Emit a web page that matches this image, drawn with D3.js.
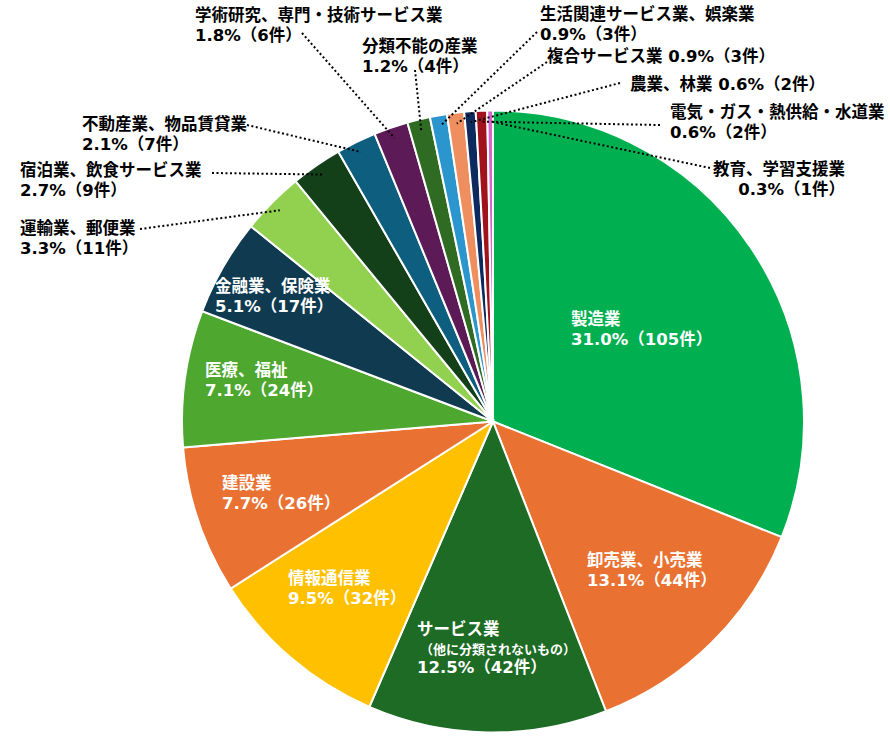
<!DOCTYPE html>
<html>
<head>
<meta charset="utf-8">
<script src="https://cdn.jsdelivr.net/npm/d3@7"></script>
<style>
  body { margin: 0; background: #fff; }
  text { font-family: "DejaVu Sans", "Noto Sans CJK JP", sans-serif; font-weight: bold; }
</style>
</head>
<body>
<svg id="chart" width="890" height="736"></svg>
<script>
// data
const industries = ["製造業", "卸売業、小売業", "サービス業", "情報通信業", "建設業", "医療、福祉",
  "金融業、保険業", "運輸業、郵便業", "宿泊業、飲食サービス業", "不動産業、物品賃貸業",
  "学術研究、専門・技術サービス業", "分類不能の産業", "生活関連サービス業、娯楽業",
  "複合サービス業", "農業、林業", "電気・ガス・熱供給・水道業", "教育、学習支援業"];
const counts = [105, 44, 42, 32, 26, 24, 17, 11, 9, 7, 6, 4, 3, 3, 2, 2, 1];
const percents = ["31.0%", "13.1%", "12.5%", "9.5%", "7.7%", "7.1%", "5.1%", "3.3%", "2.7%",
  "2.1%", "1.8%", "1.2%", "0.9%", "0.9%", "0.6%", "0.6%", "0.3%"];
const subNote = "（他に分類されないもの）"; // under サービス業

const colors = ["#00B050", "#E97132", "#1D6B24", "#FFC000", "#E97132", "#4EA72E", "#0F3A4F",
  "#92D050", "#144019", "#0E5E80", "#5C1A57", "#2F6B22", "#2B96CE", "#EF8F5F", "#0C2A5E",
  "#A0131C", "#D568C9"];

// label placement: x,y = first baseline; lead = leader start relative to label
const layout = [
  {x: 571, y: 325, inside: true},
  {x: 587, y: 566, inside: true},
  {x: 417, y: 635, inside: true, note: true},
  {x: 288, y: 584, inside: true},
  {x: 222, y: 489, inside: true},
  {x: 205, y: 376, inside: true},
  {x: 215, y: 292, inside: true},
  {x: 20, y: 234, lead: [120, -5]},
  {x: 20, y: 176, lead: [192, -3]},
  {x: 82, y: 130, lead: [165, -5]},
  {x: 195, y: 21, lead: [107, 12]},
  {x: 362, y: 52, lead: [53, 18]},
  {x: 540, y: 20, lead: [-3, 12]},
  {x: 547, y: 62, lead: [0, 0], single: true},
  {x: 630, y: 90, lead: [-10, -7], single: true},
  {x: 670, y: 118, lead: [-10, 7]},
  {x: 845, y: 175, lead: [-135, -7], anchor: "end"}
];

const cx = 493, cy = 421.5, radius = 311;
const svg = d3.select("#chart");
const g = svg.append("g").attr("transform", `translate(${cx},${cy})`);

const pie = d3.pie().sort(null).value(d => d);
const arcs = pie(counts);
const arc = d3.arc().innerRadius(0).outerRadius(radius);

g.selectAll("path.slice")
  .data(arcs)
  .join("path")
  .attr("class", "slice")
  .attr("d", arc)
  .attr("fill", (d, i) => colors[i])
  .attr("stroke", "#fff")
  .attr("stroke-width", 2);

// leader lines end at the slice's mid angle, just inside the rim
const leadR = radius * 0.965;
arcs.forEach((d, i) => {
  const L = layout[i];
  if (!L.lead) return;
  const mid = (d.startAngle + d.endAngle) / 2;
  svg.append("line")
    .attr("x1", L.x + L.lead[0]).attr("y1", L.y + L.lead[1])
    .attr("x2", cx + leadR * Math.sin(mid)).attr("y2", cy - leadR * Math.cos(mid))
    .attr("stroke", "#000")
    .attr("stroke-width", 2)
    .attr("stroke-dasharray", "2,2.5");
});

const labels = svg.append("g");
arcs.forEach((d, i) => {
  const L = layout[i];
  const value = `${percents[i]}（${counts[i]}件）`;
  const t = labels.append("text")
    .attr("x", L.x).attr("y", L.y)
    .attr("fill", L.inside ? "#fff" : "#000")
    .attr("font-size", 16.5)
    .attr("text-anchor", L.anchor || "start");
  if (L.single) {
    t.text(`${industries[i]} ${value}`);
    return;
  }
  t.append("tspan").attr("x", L.x).text(industries[i]);
  if (L.note) {
    t.append("tspan").attr("x", L.x + 3).attr("dy", 19).attr("font-size", 13).text(subNote);
  }
  t.append("tspan").attr("x", L.x).attr("dy", L.note ? 19 : 20).text(value);
});
</script>
</body>
</html>
